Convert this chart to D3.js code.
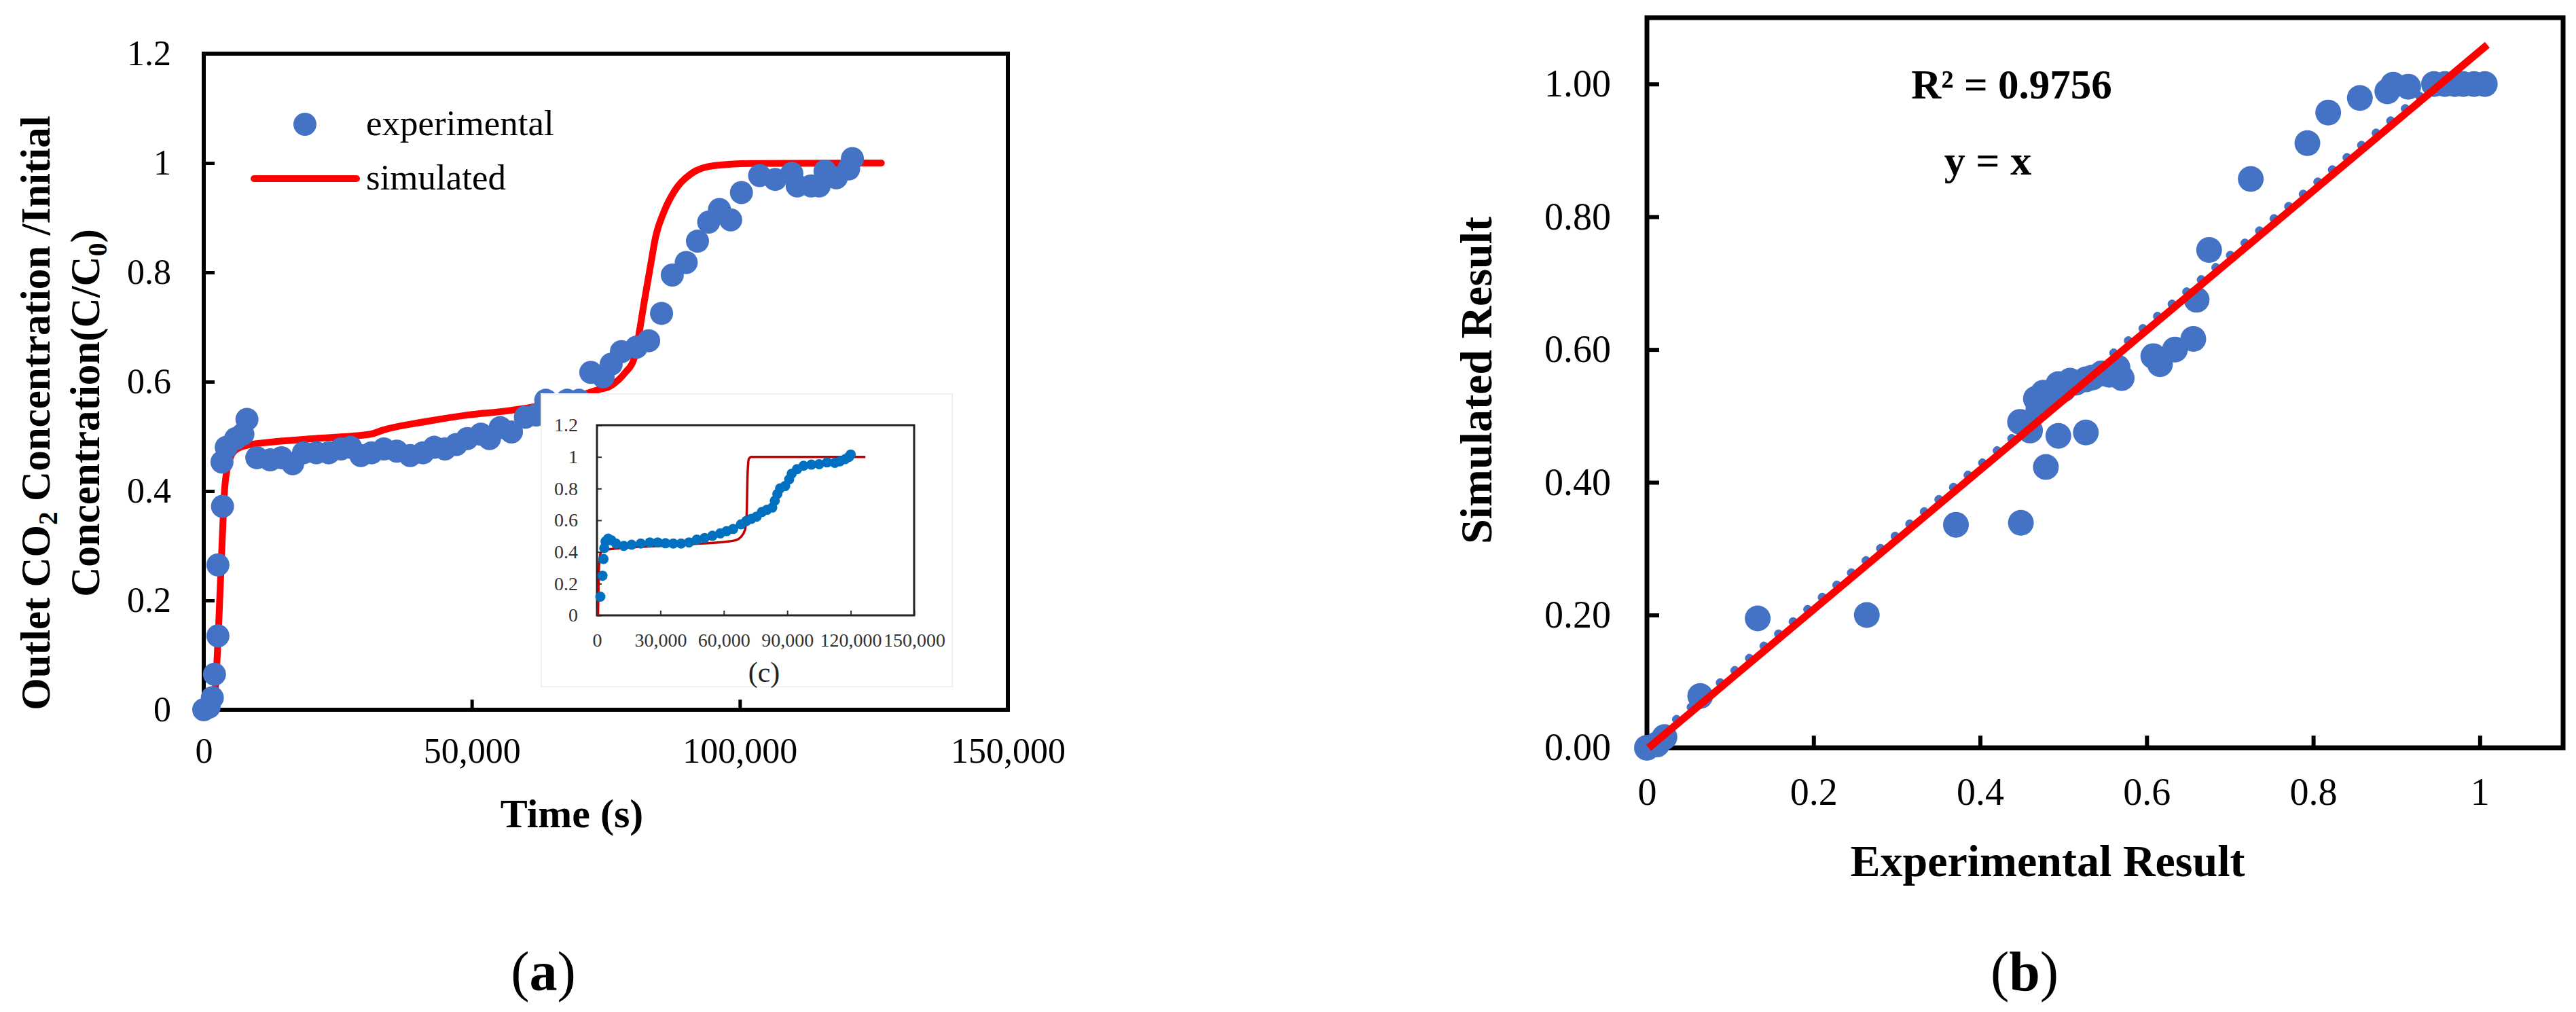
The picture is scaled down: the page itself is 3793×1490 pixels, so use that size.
<!DOCTYPE html>
<html>
<head>
<meta charset="utf-8">
<script src="https://cdn.jsdelivr.net/npm/d3@7"></script>
<style>
  body { margin: 0; background: #fff; }
  svg text { font-family: "Liberation Serif", "Times New Roman", serif; }
</style>
</head>
<body>
<div id="chart"></div>
<script>
// (a) breakthrough curve - experimental points
const timeExp = [0, 1000, 1600, 2000, 2640, 2640, 3500, 3400, 4200, 5950, 7300, 8060, 9900, 12400, 14500, 16600, 18600, 21000, 23300, 25600, 27400, 29300, 31300, 33600, 36000, 38500, 40900, 43000, 45000, 47100, 49150, 51700, 53300, 55300, 57400, 60000, 62000, 63800, 67800, 70000, 72200, 74500, 76000, 77900, 80700, 83000, 85400, 87400, 90000, 92100, 94200, 96200, 98300, 100300, 103700, 106600, 109700, 110700, 113300, 114800, 115900, 118000, 120300, 121000];
const ratioExp = [0, 0.005, 0.022, 0.065, 0.135, 0.265, 0.372, 0.453, 0.48, 0.496, 0.504, 0.531, 0.461, 0.457, 0.461, 0.45, 0.47, 0.47, 0.47, 0.477, 0.48, 0.465, 0.47, 0.477, 0.473, 0.465, 0.47, 0.48, 0.477, 0.485, 0.496, 0.504, 0.496, 0.516, 0.508, 0.535, 0.539, 0.566, 0.566, 0.566, 0.617, 0.609, 0.632, 0.655, 0.663, 0.675, 0.725, 0.795, 0.818, 0.857, 0.892, 0.915, 0.896, 0.946, 0.977, 0.97, 0.981, 0.958, 0.958, 0.958, 0.985, 0.973, 0.989, 1.008];

// (a) simulated curve
const timeSim = [1800, 2380, 2890, 3420, 3930, 4700, 5700, 7800, 13000, 20700, 31100, 33600, 41400, 49150, 56900, 62600, 68000, 73500, 76000, 78650, 80200, 81200, 82200, 83300, 84300, 85900, 87900, 91000, 95100, 101800, 126400];
const ratioSim = [0, 0.07, 0.18, 0.305, 0.408, 0.453, 0.473, 0.483, 0.49, 0.496, 0.504, 0.512, 0.527, 0.539, 0.547, 0.556, 0.568, 0.585, 0.593, 0.617, 0.64, 0.688, 0.748, 0.81, 0.865, 0.912, 0.95, 0.981, 0.995, 0.999, 1.0];

// (c) inset
const insetTimeExp = [1600, 2600, 3080, 3450, 4060, 5300, 6770, 9000, 12700, 16400, 20700, 25000, 28700, 32400, 36100, 39800, 43500, 47200, 50900, 54600, 58300, 61300, 64400, 68100, 70600, 73000, 75500, 78000, 80400, 82900, 84100, 85300, 86600, 89000, 90900, 92100, 94600, 97700, 101400, 105100, 108800, 112500, 114900, 117400, 119200, 120000];
const insetRatioExp = [0.118, 0.25, 0.356, 0.424, 0.467, 0.484, 0.474, 0.453, 0.438, 0.446, 0.453, 0.46, 0.46, 0.455, 0.453, 0.453, 0.46, 0.478, 0.488, 0.502, 0.517, 0.531, 0.545, 0.574, 0.595, 0.609, 0.623, 0.652, 0.666, 0.68, 0.723, 0.766, 0.801, 0.816, 0.858, 0.894, 0.922, 0.944, 0.951, 0.954, 0.965, 0.962, 0.972, 0.986, 1.0, 1.015];
const insetTimeSim = [500, 985, 1850, 4060, 11450, 29900, 48400, 60700, 65600, 68100, 69950, 70800, 71200, 71800, 73000, 126950];
const insetRatioSim = [0, 0.31, 0.396, 0.413, 0.424, 0.438, 0.453, 0.464, 0.474, 0.495, 0.538, 0.638, 0.88, 0.986, 1.0, 1.0];

// (b) parity plot
const expResult = [0, 0.012, 0.021, 0.064, 0.133, 0.264, 0.371, 0.449, 0.479, 0.494, 0.527, 0.457, 0.448, 0.46, 0.467, 0.47, 0.476, 0.485, 0.494, 0.5, 0.508, 0.515, 0.527, 0.535, 0.546, 0.555, 0.565, 0.57, 0.565, 0.608, 0.616, 0.634, 0.656, 0.66, 0.675, 0.725, 0.793, 0.818, 0.856, 0.889, 0.896, 0.914, 0.945, 0.958, 0.97, 0.98, 0.993, 1.006];
const simResult = [0, 0.005, 0.016, 0.078, 0.195, 0.2, 0.336, 0.339, 0.423, 0.47, 0.475, 0.484, 0.491, 0.478, 0.526, 0.51, 0.535, 0.53, 0.548, 0.54, 0.553, 0.55, 0.555, 0.558, 0.564, 0.562, 0.566, 0.557, 0.573, 0.59, 0.578, 0.6, 0.616, 0.675, 0.75, 0.857, 0.911, 0.957, 0.979, 0.989, 0.999, 0.996, 1.0, 1.0, 1.0, 1.0, 1.0, 1.0];
const fitX = [0.002, 1.009];
const fitY = [0, 1.059];
const dotRefX = [0.0, 0.95];
const dotRefY = [0.006, 1.005];

// ticks
const xTicksA = [0, 50000, 100000, 150000];
const yTicksA = [0, 0.2, 0.4, 0.6, 0.8, 1, 1.2];
const xTicksInset = [0, 30000, 60000, 90000, 120000, 150000];
const yTicksInset = [0, 0.2, 0.4, 0.6, 0.8, 1, 1.2];
const xTicksB = [0, 0.2, 0.4, 0.6, 0.8, 1];
const yTicksB = [0, 0.2, 0.4, 0.6, 0.8, 1.0];

const FONT = '"Liberation Serif", "Times New Roman", serif';
const BLUE = '#4472C4';
const RED = '#FF0000';

let svg = d3.select('#chart').append('svg')
    .attr('width', 3793)
    .attr('height', 1490);

function styleAxis(g, size, strokeW, color) {
    g.select('.domain').remove();
    g.selectAll('.tick line').attr('stroke', color).attr('stroke-width', strokeW);
    g.selectAll('.tick text')
        .attr('font-family', FONT)
        .attr('font-size', size)
        .attr('fill', color);
}

function zip(a, b) {
    return a.map((v, i) => [v, b[i]]);
}

// "(a)" style caption: normal parentheses, bold letter
function caption(g, x, y, letter) {
    let t = g.append('text')
        .attr('x', x).attr('y', y)
        .attr('text-anchor', 'middle')
        .attr('font-size', 82);
    t.append('tspan').text('(');
    t.append('tspan').attr('font-weight', 'bold').text(letter);
    t.append('tspan').text(')');
}

function drawPanelA() {
    let x = d3.scaleLinear().domain([0, 150000]).range([300, 1484]);
    let y = d3.scaleLinear().domain([0, 1.2]).range([1045, 79]);
    let g = svg.append('g').attr('class', 'panel-a');

    g.append('g')
        .attr('transform', 'translate(0,1045)')
        .call(d3.axisBottom(x).tickValues(xTicksA).tickFormat(d3.format(',')).tickSize(-15).tickPadding(41))
        .call(a => styleAxis(a, 52, 5, '#000'));

    g.append('g')
        .attr('transform', 'translate(300,0)')
        .call(d3.axisLeft(y).tickValues(yTicksA).tickFormat(d3.format('~g')).tickSize(-16).tickPadding(48))
        .call(a => styleAxis(a, 52, 5, '#000'));

    g.append('rect')
        .attr('x', 300).attr('y', 79)
        .attr('width', 1184).attr('height', 966)
        .attr('fill', 'none').attr('stroke', '#000').attr('stroke-width', 6);

    let line = d3.line().x(d => x(d[0])).y(d => y(d[1])).curve(d3.curveMonotoneX);

    g.append('path')
        .datum(zip(timeSim, ratioSim))
        .attr('d', line)
        .attr('fill', 'none')
        .attr('stroke', RED)
        .attr('stroke-width', 10)
        .attr('stroke-linecap', 'round');

    g.selectAll('circle.exp')
        .data(zip(timeExp, ratioExp))
        .enter()
        .append('circle')
        .attr('class', 'exp')
        .attr('cx', d => x(d[0]))
        .attr('cy', d => y(d[1]))
        .attr('r', 17)
        .attr('fill', BLUE);

    // legend
    g.append('circle').attr('cx', 449).attr('cy', 183).attr('r', 17).attr('fill', BLUE);
    g.append('line')
        .attr('x1', 374).attr('x2', 525).attr('y1', 263).attr('y2', 263)
        .attr('stroke', RED).attr('stroke-width', 10).attr('stroke-linecap', 'round');
    g.append('text').attr('x', 539).attr('y', 183).attr('dy', '0.3em')
        .attr('font-size', 53).text('experimental');
    g.append('text').attr('x', 539).attr('y', 263).attr('dy', '0.3em')
        .attr('font-size', 53).text('simulated');

    // titles
    g.append('text')
        .attr('x', 842).attr('y', 1218)
        .attr('text-anchor', 'middle')
        .attr('font-size', 60).attr('font-weight', 'bold')
        .text('Time (s)');

    let t1 = g.append('text')
        .attr('transform', 'translate(73,608) rotate(-90)')
        .attr('text-anchor', 'middle')
        .attr('font-size', 61).attr('font-weight', 'bold');
    t1.append('tspan').text('Outlet CO');
    t1.append('tspan').attr('dy', '0.28em').attr('font-size', '0.65em').text('2');
    t1.append('tspan').attr('dy', '-0.18em').text(' Concentration /Initial');

    let t2 = g.append('text')
        .attr('transform', 'translate(146,608) rotate(-90)')
        .attr('text-anchor', 'middle')
        .attr('font-size', 61).attr('font-weight', 'bold');
    t2.append('tspan').text('Concentration(C/C');
    t2.append('tspan').attr('dy', '0.28em').attr('font-size', '0.65em').text('0');
    t2.append('tspan').attr('dy', '-0.18em').text(')');

    caption(g, 800, 1458, 'a');

    drawInset(g);
}

function drawInset(parent) {
    let x = d3.scaleLinear().domain([0, 150000]).range([879, 1346]);
    let y = d3.scaleLinear().domain([0, 1.2]).range([906, 626]);
    let g = parent.append('g').attr('class', 'inset');

    g.append('rect')
        .attr('x', 797).attr('y', 580)
        .attr('width', 605).attr('height', 431)
        .attr('fill', '#fff').attr('stroke', '#f0f0f0').attr('stroke-width', 2);

    g.append('g')
        .attr('transform', 'translate(0,906)')
        .call(d3.axisBottom(x).tickValues(xTicksInset).tickFormat(d3.format(',')).tickSize(-7).tickPadding(26))
        .call(a => styleAxis(a, 28, 2, '#333'));

    g.append('g')
        .attr('transform', 'translate(879,0)')
        .call(d3.axisLeft(y).tickValues(yTicksInset).tickFormat(d3.format('~g')).tickSize(-7).tickPadding(28))
        .call(a => styleAxis(a, 28, 2, '#333'));

    g.append('rect')
        .attr('x', 879).attr('y', 626)
        .attr('width', 467).attr('height', 280)
        .attr('fill', 'none').attr('stroke', '#222').attr('stroke-width', 3);

    let line = d3.line().x(d => x(d[0])).y(d => y(d[1])).curve(d3.curveMonotoneX);

    g.append('path')
        .datum(zip(insetTimeSim, insetRatioSim))
        .attr('d', line)
        .attr('fill', 'none')
        .attr('stroke', '#C00000')
        .attr('stroke-width', 3.5);

    g.selectAll('circle.iexp')
        .data(zip(insetTimeExp, insetRatioExp))
        .enter()
        .append('circle')
        .attr('class', 'iexp')
        .attr('cx', d => x(d[0]))
        .attr('cy', d => y(d[1]))
        .attr('r', 7.5)
        .attr('fill', '#0070C0');

    g.append('text')
        .attr('x', 1125).attr('y', 989).attr('dy', '0.35em')
        .attr('text-anchor', 'middle')
        .attr('font-size', 42).attr('fill', '#222')
        .text('(c)');
}

function drawPanelB() {
    let x = d3.scaleLinear().domain([0, 1.1]).range([2425, 3774]);
    let y = d3.scaleLinear().domain([0, 1.1]).range([1101, 26]);
    let g = svg.append('g').attr('class', 'panel-b');

    g.append('g')
        .attr('transform', 'translate(0,1101)')
        .call(d3.axisBottom(x).tickValues(xTicksB).tickFormat(d3.format('~g')).tickSize(-18).tickPadding(44))
        .call(a => styleAxis(a, 56, 6, '#000'));

    g.append('g')
        .attr('transform', 'translate(2425,0)')
        .call(d3.axisLeft(y).tickValues(yTicksB).tickFormat(d3.format('.2f')).tickSize(-18).tickPadding(53))
        .call(a => styleAxis(a, 56, 6, '#000'));

    g.append('rect')
        .attr('x', 2425).attr('y', 26)
        .attr('width', 1349).attr('height', 1075)
        .attr('fill', 'none').attr('stroke', '#000').attr('stroke-width', 7);

    g.selectAll('circle.pt')
        .data(zip(expResult, simResult))
        .enter()
        .append('circle')
        .attr('class', 'pt')
        .attr('cx', d => x(d[0]))
        .attr('cy', d => y(d[1]))
        .attr('r', 19)
        .attr('fill', BLUE);

    let line = d3.line().x(d => x(d[0])).y(d => y(d[1]));

    g.append('path')
        .datum(zip(dotRefX, dotRefY))
        .attr('d', line)
        .attr('fill', 'none')
        .attr('stroke', BLUE)
        .attr('stroke-width', 12)
        .attr('stroke-linecap', 'round')
        .attr('stroke-dasharray', '1 27');

    g.append('path')
        .datum(zip(fitX, fitY))
        .attr('d', line)
        .attr('fill', 'none')
        .attr('stroke', RED)
        .attr('stroke-width', 11);

    g.append('text')
        .attr('x', 2962).attr('y', 124).attr('dy', '0.35em')
        .attr('text-anchor', 'middle')
        .attr('font-size', 61).attr('font-weight', 'bold')
        .text('R² = 0.9756');

    g.append('text')
        .attr('x', 2927).attr('y', 257)
        .attr('text-anchor', 'middle')
        .attr('font-size', 62).attr('font-weight', 'bold')
        .text('y = x');

    g.append('text')
        .attr('x', 3015).attr('y', 1290)
        .attr('text-anchor', 'middle')
        .attr('font-size', 66).attr('font-weight', 'bold')
        .text('Experimental Result');

    g.append('text')
        .attr('transform', 'translate(2196,560) rotate(-90)')
        .attr('text-anchor', 'middle')
        .attr('font-size', 66).attr('font-weight', 'bold')
        .text('Simulated Result');

    caption(g, 2981, 1458, 'b');
}

drawPanelA();
drawPanelB();
</script>
</body>
</html>
